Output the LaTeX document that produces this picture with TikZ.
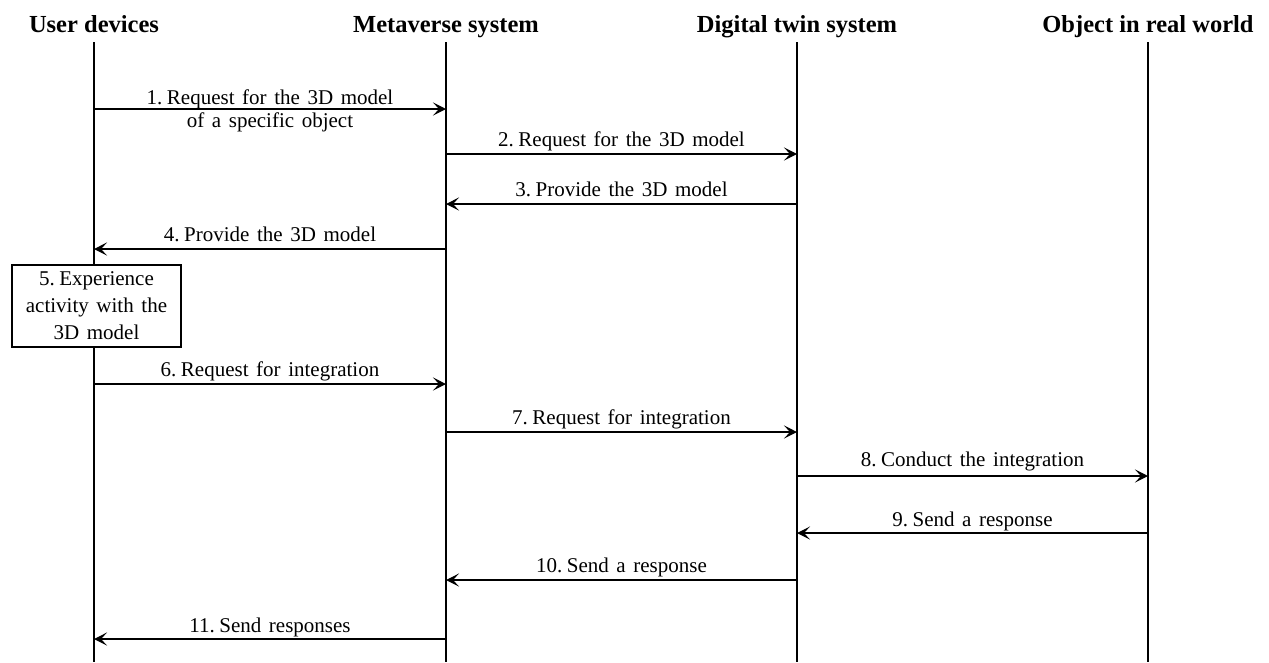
\documentclass[tikz,border=0pt]{standalone}
\usepackage{fontspec}
\setmainfont{Liberation Serif}
\usetikzlibrary{arrows.meta}
\newcommand\msgfont{\fontsize{21}{27}\selectfont\spaceskip=7.6pt plus 1pt\relax\xspaceskip=4.5pt\relax}
\begin{document}
\begin{tikzpicture}[x=1pt,y=-1pt,
  head/.style={font=\fontsize{24.5}{28}\selectfont\bfseries, anchor=base, inner sep=0pt},
  life/.style={line width=1.3pt},
  msg/.style={line width=1.3pt, -{Stealth[length=13pt,width=13pt,inset=6pt]}},
  lbl/.style={font=\msgfont, anchor=base, inner sep=0pt, midway},
  act/.style={draw, line width=1.3pt, fill=white, align=center, inner sep=2pt,
    minimum width=169pt, minimum height=82pt, font=\msgfont}]
\useasboundingbox (0,0) rectangle (1269,662);

% participants
\node[head] (hU) at (94,32) {User devices};
\node[head] (hM) at (446,32) {Metaverse system};
\node[head] (hD) at (797,32) {Digital twin system};
\node[head] (hO) at (1148,32) {Object in real world};

% lifelines
\foreach \n/\x in {U/94, M/446, D/797, O/1148} {
  \coordinate (top\n) at (\x,42);
  \coordinate (bot\n) at (\x,662);
  \draw[life] (top\n) -- (bot\n);
}

% message end points on the lifelines
\foreach \k/\y in {1/109, 2/154, 3/204, 4/249, 6/384, 7/432, 8/476, 9/533, 10/580, 11/639} {
  \coordinate (U\k) at (94,\y);
  \coordinate (M\k) at (446,\y);
  \coordinate (D\k) at (797,\y);
  \coordinate (O\k) at (1148,\y);
}

% messages
\draw[msg] (U1) -- node[lbl, yshift=5pt] {1. Request for the 3D model}
                   node[lbl, yshift=-18pt] {of a specific object} (M1);
\draw[msg] (M2) -- node[lbl, yshift=8pt] {2. Request for the 3D model} (D2);
\draw[msg] (D3) -- node[lbl, yshift=8pt] {3. Provide the 3D model} (M3);
\draw[msg] (M4) -- node[lbl, yshift=8pt] {4. Provide the 3D model} (U4);

% local activity
\node[act] (act5) at (96.5,306) {5. Experience\\activity with the\\3D model};

\draw[msg] (U6) -- node[lbl, yshift=8pt] {6. Request for integration} (M6);
\draw[msg] (M7) -- node[lbl, yshift=8pt] {7. Request for integration} (D7);
\draw[msg] (D8) -- node[lbl, yshift=10pt] {8. Conduct the integration} (O8);
\draw[msg] (O9) -- node[lbl, yshift=7pt] {9. Send a response} (D9);
\draw[msg] (D10) -- node[lbl, yshift=8pt] {10. Send a response} (M10);
\draw[msg] (M11) -- node[lbl, yshift=7pt] {11. Send responses} (U11);
\end{tikzpicture}
\end{document}
